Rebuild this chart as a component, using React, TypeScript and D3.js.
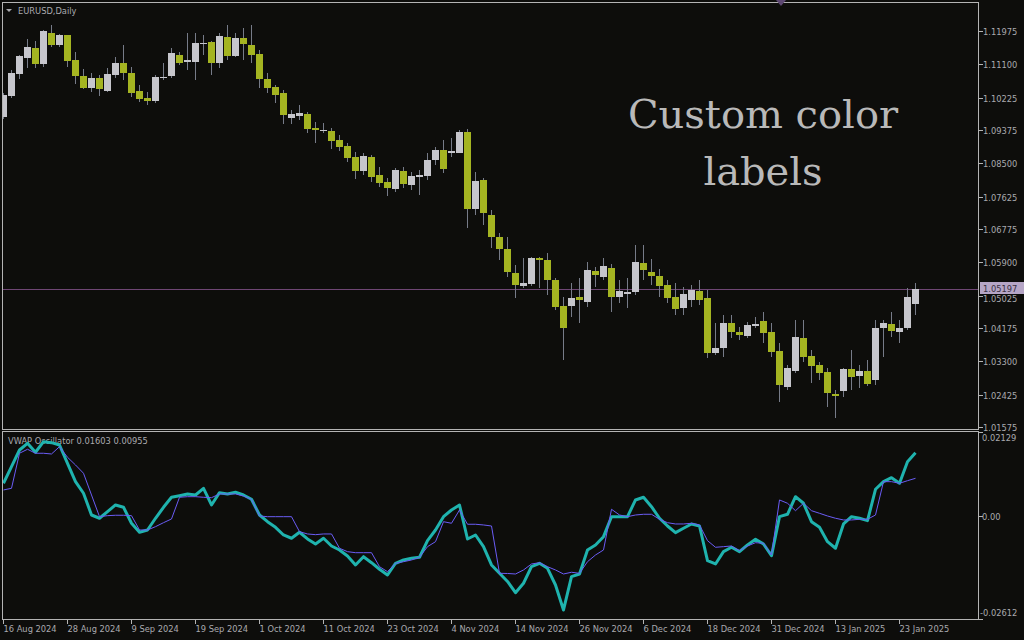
import * as d3 from 'd3';

// EURUSD daily bars [open, high, low, close], 16 Aug 2024 .. 27 Jan 2025
const candles: [number, number, number, number][] = [
  [1.09716, 1.10346, 1.09664, 1.10294], [1.10267, 1.10951, 1.10215, 1.10872],
  [1.10846, 1.11345, 1.10715, 1.11318], [1.11266, 1.11765, 1.11003, 1.11554],
  [1.11528, 1.11712, 1.11003, 1.11108], [1.11108, 1.1199, 1.11029, 1.1197],
  [1.11922, 1.12133, 1.11554, 1.11607], [1.11607, 1.11896, 1.11554, 1.1187],
  [1.1187, 1.1188, 1.11029, 1.11187], [1.11213, 1.11423, 1.10583, 1.10793],
  [1.10793, 1.10977, 1.10452, 1.10478], [1.10478, 1.10872, 1.10372, 1.10741],
  [1.10741, 1.1082, 1.10267, 1.10452], [1.10399, 1.11003, 1.10372, 1.10846],
  [1.1082, 1.11292, 1.10741, 1.11134], [1.11134, 1.11607, 1.10688, 1.10872],
  [1.10872, 1.11029, 1.10241, 1.10346], [1.10399, 1.10557, 1.1011, 1.10189],
  [1.10215, 1.10372, 1.10032, 1.10137], [1.10137, 1.1082, 1.10084, 1.10767],
  [1.10741, 1.11134, 1.10688, 1.10767], [1.10793, 1.11528, 1.10741, 1.11397],
  [1.11345, 1.11423, 1.11082, 1.11134], [1.1116, 1.11922, 1.10951, 1.11213],
  [1.1116, 1.11922, 1.10688, 1.11659], [1.11633, 1.1187, 1.11345, 1.11659],
  [1.11685, 1.11712, 1.1082, 1.11134], [1.11134, 1.11922, 1.11003, 1.11843],
  [1.11817, 1.12133, 1.11213, 1.11318], [1.11318, 1.11922, 1.11292, 1.11791],
  [1.11791, 1.12054, 1.11213, 1.11633], [1.11607, 1.12133, 1.11134, 1.11345],
  [1.11371, 1.11476, 1.10478, 1.10715], [1.10715, 1.10872, 1.10346, 1.10478],
  [1.10504, 1.10557, 1.10084, 1.10294], [1.10346, 1.10425, 1.09533, 1.09769],
  [1.0969, 1.099, 1.09533, 1.09795], [1.09742, 1.10032, 1.09638, 1.09821],
  [1.09795, 1.09847, 1.09296, 1.09402], [1.09428, 1.09585, 1.09033, 1.09375],
  [1.09349, 1.09559, 1.09296, 1.09375], [1.09349, 1.09428, 1.08876, 1.09086],
  [1.09112, 1.09244, 1.08824, 1.08928], [1.08954, 1.09033, 1.08534, 1.0864],
  [1.08666, 1.08797, 1.08089, 1.08299], [1.08299, 1.08771, 1.08194, 1.08692],
  [1.08666, 1.08719, 1.08009, 1.08141], [1.08194, 1.08403, 1.07878, 1.07983],
  [1.08009, 1.08115, 1.07641, 1.07852], [1.07826, 1.08377, 1.07746, 1.08325],
  [1.08299, 1.08403, 1.07852, 1.07957], [1.07931, 1.08272, 1.07799, 1.08167],
  [1.08141, 1.08325, 1.07668, 1.08194], [1.08167, 1.08771, 1.08062, 1.08587],
  [1.08587, 1.08928, 1.08456, 1.0885], [1.0885, 1.09112, 1.08246, 1.08351],
  [1.08771, 1.09165, 1.08666, 1.08824], [1.08771, 1.09375, 1.0876, 1.09322],
  [1.09322, 1.09402, 1.06801, 1.073], [1.073, 1.08272, 1.07142, 1.08036],
  [1.08062, 1.08115, 1.0688, 1.07194], [1.07142, 1.07273, 1.06275, 1.06564],
  [1.06564, 1.06669, 1.0596, 1.06249], [1.06249, 1.06564, 1.05514, 1.05645],
  [1.05619, 1.05829, 1.04962, 1.05304], [1.05277, 1.06013, 1.05225, 1.05356],
  [1.0533, 1.06039, 1.05277, 1.06013], [1.06013, 1.06039, 1.05225, 1.0596],
  [1.0596, 1.06144, 1.05041, 1.05435], [1.05435, 1.05488, 1.04647, 1.04726],
  [1.04752, 1.04988, 1.03334, 1.04175], [1.04752, 1.05356, 1.04463, 1.04962],
  [1.04988, 1.05488, 1.04306, 1.0491], [1.04857, 1.05907, 1.04726, 1.05698],
  [1.05672, 1.05776, 1.05251, 1.05567], [1.05514, 1.06013, 1.05435, 1.05802],
  [1.0575, 1.05855, 1.04594, 1.04988], [1.04988, 1.05435, 1.04831, 1.05146],
  [1.05067, 1.05488, 1.047, 1.05119], [1.05119, 1.06354, 1.05041, 1.05907],
  [1.05881, 1.06354, 1.05435, 1.05698], [1.05645, 1.05987, 1.05304, 1.0554],
  [1.0554, 1.05724, 1.04988, 1.05277], [1.05304, 1.05435, 1.04831, 1.04962],
  [1.04988, 1.05356, 1.04516, 1.04674], [1.047, 1.05251, 1.04516, 1.05067],
  [1.0491, 1.05304, 1.04726, 1.05172], [1.05146, 1.05435, 1.04779, 1.0491],
  [1.04962, 1.05172, 1.03387, 1.03518], [1.03518, 1.04306, 1.03466, 1.03649],
  [1.03649, 1.04516, 1.03413, 1.04306], [1.04306, 1.04516, 1.03912, 1.04069],
  [1.04069, 1.04201, 1.03859, 1.03991], [1.03964, 1.04332, 1.03912, 1.04254],
  [1.04227, 1.04463, 1.04175, 1.0428], [1.04359, 1.04594, 1.0378, 1.04043],
  [1.04069, 1.04306, 1.03413, 1.03544], [1.03571, 1.0378, 1.02231, 1.02678],
  [1.02625, 1.03203, 1.02546, 1.03124], [1.03046, 1.04385, 1.02993, 1.03938],
  [1.03912, 1.04385, 1.03281, 1.03413], [1.03439, 1.03597, 1.0273, 1.03176],
  [1.03203, 1.03281, 1.02809, 1.02993], [1.03019, 1.03124, 1.021, 1.02467],
  [1.02441, 1.02546, 1.01811, 1.02388], [1.0252, 1.03124, 1.02362, 1.03098],
  [1.03098, 1.03597, 1.02546, 1.02888], [1.02914, 1.03203, 1.02599, 1.03046],
  [1.03046, 1.03334, 1.02651, 1.02704], [1.02809, 1.04385, 1.02678, 1.04175],
  [1.04175, 1.04385, 1.03413, 1.04306], [1.0428, 1.04594, 1.03938, 1.04096],
  [1.04069, 1.04385, 1.0378, 1.04175], [1.04175, 1.05225, 1.04122, 1.04988],
  [1.04805, 1.05356, 1.04516, 1.05197],
];

// VWAP oscillator, main (thick) and signal (thin) buffers
const vwapMain = [
  0.00829, 0.0125, 0.01673, 0.01843, 0.01615, 0.01884, 0.01859, 0.018, 0.01336, 0.0087,
  0.00576, 0.00025, -0.00058, 0.00109, 0.00279, 0.00221, -0.00185, -0.00413, -0.00355, -0.00058,
  0.00221, 0.00474, 0.00515, 0.00558, 0.00532, 0.00702, 0.00279, 0.00591, 0.00558, 0.00601,
  0.00532, 0.00423, 0.00025, -0.00145, -0.00287, -0.00482, -0.00565, -0.00413, -0.00583, -0.0071,
  -0.00565, -0.00761, -0.00862, -0.01014, -0.01242, -0.01032, -0.01184, -0.01351, -0.01496, -0.01199,
  -0.01116, -0.01073, -0.01047, -0.00626, -0.00355, -0.00018, 0.00152, 0.00279, -0.00583, -0.00482,
  -0.00778, -0.01242, -0.01453, -0.01661, -0.01945, -0.01706, -0.01286, -0.01199, -0.01326, -0.0175,
  -0.02383, -0.01539, -0.01471, -0.00862, -0.00735, -0.00525, -0.00018, -0.00018, -0.00018, 0.00406,
  0.00474, 0.00236, -0.00058, -0.00254, -0.00423, -0.00312, -0.00203, -0.00254, -0.01133, -0.01217,
  -0.00905, -0.00794, -0.00905, -0.00735, -0.00591, -0.0071, -0.01007, -0.00018, 0.00043, 0.00489,
  0.00322, -0.00145, -0.00287, -0.00652, -0.00819, -0.00203, -0.00018, -0.00058, -0.00119, 0.00677,
  0.0087, 0.00971, 0.00829, 0.01377, 0.01603,
];
const vwapSignal = [
  0.00659, 0.00702, 0.0159, 0.01691, 0.0159, 0.0159, 0.01572, 0.01757, 0.01488, 0.01293,
  0.01083, 0.00532, -0.00018, 0.00008, 0.00018, 0.00018, 0.00008, -0.00355, -0.00355, -0.00271,
  -0.0017, -0.00076, 0.00474, 0.00489, 0.00489, 0.00474, 0.00464, 0.00558, 0.00558, 0.00558,
  0.00507, 0.00423, 0, -0.00018, -0.00018, -0.00018, -0.00018, -0.00398, -0.00456, -0.00474,
  -0.00456, -0.00456, -0.00819, -0.00905, -0.00931, -0.00931, -0.00931, -0.01286, -0.01412, -0.01199,
  -0.01159, -0.01116, -0.01047, -0.00778, -0.00652, -0.00145, -0.00185, 0.00152, -0.0021, -0.0021,
  -0.00228, -0.00254, -0.01453, -0.01458, -0.01471, -0.01369, -0.01217, -0.01184, -0.01286, -0.01369,
  -0.01471, -0.01427, -0.01453, -0.01159, -0.00989, -0.00862, 0.0017, 0.00025, -0.00018, 0.00025,
  0.00043, 0.00043, -0.00084, -0.0017, -0.00203, -0.00203, -0.00185, -0.00228, -0.00626, -0.00794,
  -0.00778, -0.00761, -0.0088, -0.00761, -0.00677, -0.00692, -0.00989, 0.00406, 0.00322, 0.00134,
  0.00322, 0.00134, 0.00068, 0, -0.00058, -0.00101, -0.00101, -0.00084, -0.00084, 0.00025,
  0.0087, 0.0087, 0.00829, 0.00895, 0.00955,
];

const dateLabels = [
  '16 Aug 2024', '28 Aug 2024', '9 Sep 2024', '19 Sep 2024', '1 Oct 2024',
  '11 Oct 2024', '23 Oct 2024', '4 Nov 2024', '14 Nov 2024', '26 Nov 2024',
  '6 Dec 2024', '18 Dec 2024', '31 Dec 2024', '13 Jan 2025', '23 Jan 2025',
];
const dateStep = 8; // one label every 8 bars
const priceTicks = [
  '1.11975', '1.11100', '1.10225', '1.09375', '1.08500', '1.07625', '1.06775',
  '1.05900', '1.05025', '1.04175', '1.03300', '1.02425', '1.01575',
];
const oscTicks = ['0.02129', '0.00', '-0.02612'];
const lastPrice = 1.05197;

const BG = '#0d0d0b';
const FRAME = '#b4b4b4';
const TXT = '#a9a9ae';
const BULL = '#c6c6cc';
const BEAR = '#a4b421';
const WICK = '#767b88';
const axisFont = { fontFamily: '"DejaVu Sans", sans-serif', fontSize: 8.3 };

export default function App() {
  const n = candles.length;
  const left = 2.5, right = 978.5;
  const mainTop = 2.5, mainBottom = 429.5;
  const oscTop = 431.5, oscBottom = 619.5;

  const x = d3.scaleLinear().domain([0, n - 1]).range([3.5, 3.5 + 8 * (n - 1)]);
  const y = d3.scaleLinear().domain([1.01575, 1.11975]).range([427, 31]);
  const yo = d3.scaleLinear().domain([-0.02612, 0.02129]).range([619, 432]);

  const oscLine = d3.line<number>().x((_, i) => x(i)).y(d => yo(d));
  const lastY = Math.round(y(lastPrice)) + 0.5;

  return (
    <div style={{ position: 'fixed', left: 0, top: 0, width: 1024, height: 640, background: BG }}>
      <svg width={1024} height={640} style={{ display: 'block' }}>
        <defs>
          <clipPath id="mainClip">
            <rect x={left + 0.5} y={mainTop + 0.5} width={right - left - 1} height={mainBottom - mainTop - 1} />
          </clipPath>
          <clipPath id="oscClip">
            <rect x={left + 0.5} y={oscTop + 0.5} width={right - left - 1} height={oscBottom - oscTop - 1} />
          </clipPath>
        </defs>
        <rect width={1024} height={640} fill={BG} />

        {/* annotation text */}
        <g fill="#b9b9b9" fontFamily='"DejaVu Serif", serif' fontSize={40} textAnchor="middle">
          <text x={763} y={128}>Custom color</text>
          <text x={763} y={185}>labels</text>
        </g>

        {/* price line */}
        <line x1={left} x2={right} y1={lastY} y2={lastY} stroke="#6e4674" strokeWidth={1} />

        {/* candles */}
        <g clipPath="url(#mainClip)" shapeRendering="crispEdges">
          {candles.map(([o, h, l, c], i) => {
            const cx = Math.floor(x(i));
            const top = Math.round(y(Math.max(o, c)));
            const bot = Math.round(y(Math.min(o, c)));
            return (
              <g key={i}>
                <line x1={cx + 0.5} x2={cx + 0.5} y1={Math.round(y(h))} y2={Math.round(y(l))} stroke={WICK} />
                <rect x={cx - 3} y={top} width={7} height={Math.max(1, bot - top)} fill={c >= o ? BULL : BEAR} />
              </g>
            );
          })}
        </g>

        {/* titles (lines are drawn over the sub-window title) */}
        <path d="M6,9 L12,9 L9,12 Z" fill={TXT} />
        <text x={18} y={14} fill={TXT} {...axisFont}>EURUSD,Daily</text>
        <text x={8} y={444} fill={TXT} {...axisFont}>VWAP Oscillator 0.01603 0.00955</text>

        {/* oscillator */}
        <g clipPath="url(#oscClip)">
          <path d={oscLine(vwapMain) ?? ''} fill="none" stroke="#1fb3ae" strokeWidth={3} strokeLinejoin="round" />
          <path d={oscLine(vwapSignal) ?? ''} fill="none" stroke="#6a5cf5" strokeWidth={1} />
        </g>

        {/* panel frames */}
        <g fill="none" stroke={FRAME} strokeWidth={1} shapeRendering="crispEdges">
          <rect x={left} y={mainTop} width={right - left} height={mainBottom - mainTop} />
          <rect x={left} y={oscTop} width={right - left} height={oscBottom - oscTop} />
        </g>

        {/* top marker */}
        <path d="M776,0 L786,0 L781,6 Z" fill="#5d4872" />

        {/* price axis */}
        <g {...axisFont} fill={TXT}>
          {priceTicks.map(t => {
            const ty = Math.round(y(+t)) + 0.5;
            const dy = t === '1.05025' ? 5 : 3;
            return (
              <g key={t}>
                <line x1={right} x2={right + 4} y1={ty} y2={ty} stroke={FRAME} shapeRendering="crispEdges" />
                <text x={983} y={ty + dy}>{t}</text>
              </g>
            );
          })}
        </g>
        <rect x={980} y={282} width={44} height={12} fill="#b6a6c6" />
        <text x={983} y={291.5} fill="#3a3042" {...axisFont}>{lastPrice.toFixed(5)}</text>

        {/* oscillator axis */}
        <g {...axisFont} fill={TXT}>
          {oscTicks.map((t, k) => {
            const ty = Math.round(yo(+t)) + 0.5;
            const ly = k === 0 ? ty + 8 : k === 2 ? ty - 4 : ty + 3;
            return (
              <g key={t}>
                <line x1={right} x2={right + 4} y1={ty} y2={ty} stroke={FRAME} shapeRendering="crispEdges" />
                <text x={t.startsWith('-') ? 980 : 982} y={ly}>{t}</text>
              </g>
            );
          })}
        </g>

        {/* date axis */}
        <g {...axisFont} fill={TXT}>
          {dateLabels.map((d, k) => {
            const tx = Math.floor(x(k * dateStep)) + 0.5;
            return (
              <g key={d}>
                <line x1={tx} x2={tx} y1={oscBottom} y2={oscBottom + 4} stroke={FRAME} shapeRendering="crispEdges" />
                <text x={tx} y={632}>{d}</text>
              </g>
            );
          })}
        </g>
      </svg>
    </div>
  );
}
